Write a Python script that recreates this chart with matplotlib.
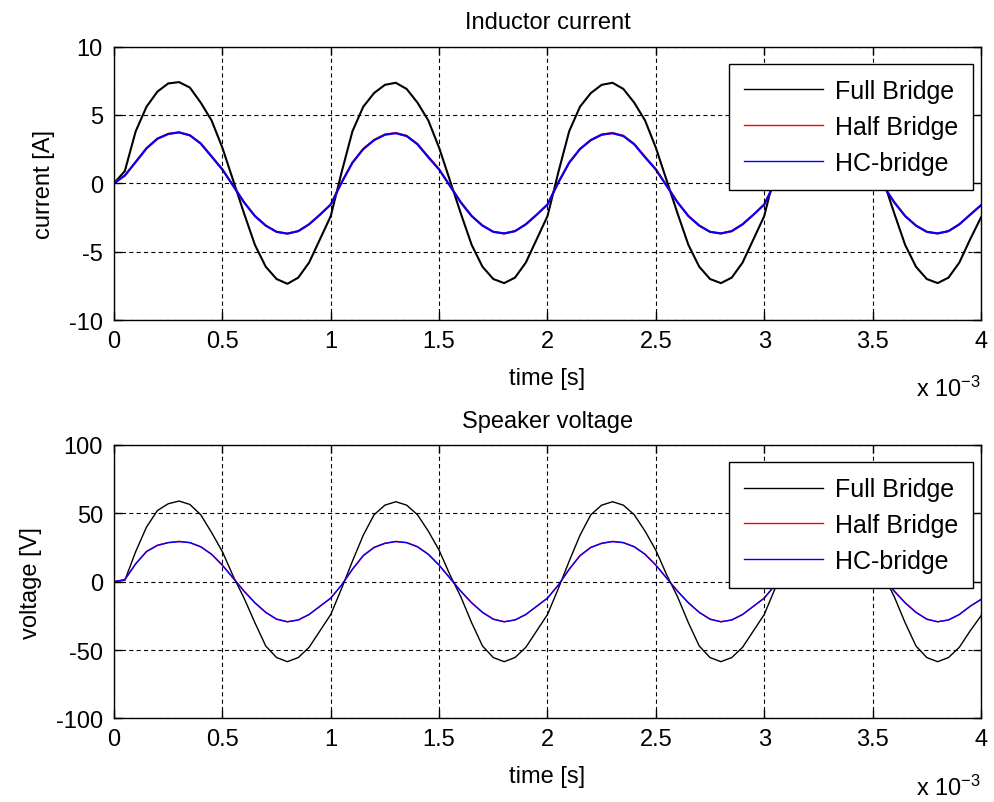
import numpy as np
import matplotlib
matplotlib.use("Agg")
import matplotlib.pyplot as plt
from matplotlib.ticker import FixedLocator, FuncFormatter

# ---------------- data ----------------
# sample times in ms (plotted with a "x 10^-3" note, as in the original)
time_ms = np.arange(81) * 0.05

series_names = ["Full Bridge", "Half Bridge", "HC-bridge"]

current_full = [
    0.0, 0.9, 3.8, 5.6, 6.7, 7.3, 7.4, 7.0, 5.9, 4.6, 2.6, 0.2, -2.2, -4.5, -6.1, -7.0, -7.35, -6.9, -5.8, -4.1,
    -2.4, 0.8, 3.8, 5.6, 6.6, 7.2, 7.35, 6.9, 5.9, 4.6, 2.6, 0.2, -2.2, -4.5, -6.1, -7.0, -7.3, -6.9, -5.8, -4.1,
    -2.4, 0.8, 3.8, 5.6, 6.6, 7.2, 7.35, 6.9, 5.9, 4.6, 2.6, 0.2, -2.2, -4.5, -6.1, -7.0, -7.3, -6.9, -5.8, -4.1,
    -2.4, 0.8, 3.8, 5.6, 6.6, 7.2, 7.35, 6.9, 5.9, 4.6, 2.6, 0.2, -2.2, -4.5, -6.1, -7.0, -7.3, -6.9, -5.8, -4.1,
    -2.5,
]
current_half = [
    0.0, 0.58, 1.57, 2.57, 3.27, 3.62, 3.73, 3.52, 2.93, 1.98, 1.03, -0.17, -1.38, -2.38, -3.08, -3.55, -3.68, -3.5, -3.0, -2.3,
    -1.55, 0.07, 1.52, 2.52, 3.17, 3.57, 3.68, 3.48, 2.88, 1.94, 1.03, -0.17, -1.38, -2.38, -3.08, -3.55, -3.68, -3.5, -3.0, -2.3,
    -1.55, 0.07, 1.52, 2.52, 3.17, 3.57, 3.68, 3.48, 2.88, 1.94, 1.03, -0.17, -1.38, -2.38, -3.08, -3.55, -3.68, -3.5, -3.0, -2.3,
    -1.55, 0.07, 1.52, 2.52, 3.17, 3.57, 3.68, 3.48, 2.88, 1.94, 1.03, -0.17, -1.38, -2.38, -3.08, -3.55, -3.68, -3.5, -3.0, -2.3,
    -1.6,
]
current_hc = [
    0.0, 0.56, 1.55, 2.55, 3.25, 3.6, 3.72, 3.5, 2.9, 1.95, 1.0, -0.2, -1.4, -2.4, -3.1, -3.55, -3.68, -3.5, -3.0, -2.3,
    -1.55, 0.05, 1.5, 2.5, 3.15, 3.55, 3.66, 3.45, 2.85, 1.9, 1.0, -0.2, -1.4, -2.4, -3.1, -3.55, -3.66, -3.5, -3.0, -2.3,
    -1.55, 0.05, 1.5, 2.5, 3.15, 3.55, 3.66, 3.45, 2.85, 1.9, 1.0, -0.2, -1.4, -2.4, -3.1, -3.55, -3.66, -3.5, -3.0, -2.3,
    -1.55, 0.05, 1.5, 2.5, 3.15, 3.55, 3.66, 3.45, 2.85, 1.9, 1.0, -0.2, -1.4, -2.4, -3.1, -3.55, -3.66, -3.5, -3.0, -2.3,
    -1.6,
]

voltage_full = [
    0, 1, 22, 40, 52, 57, 59, 56.5, 49, 36, 22, 4, -12, -30, -47, -55.5, -58.5, -55.5, -48, -36,
    -24, -5, 15, 34, 49, 56, 58.5, 56, 49, 37, 23, 5, -11, -30, -47, -55.5, -58.5, -55.5, -48, -36,
    -24, -5, 15, 34, 49, 56, 58.5, 56, 49, 37, 23, 5, -11, -30, -47, -55.5, -58.5, -55.5, -48, -36,
    -24, -5, 15, 34, 49, 56, 58.5, 56, 49, 37, 23, 5, -11, -30, -47, -55.5, -58.5, -55.5, -48, -36,
    -25,
]
voltage_half = [
    0, 1.6, 13.2, 22.2, 26.7, 28.7, 29.5, 28.7, 25.7, 20.2, 12.2, 2.7, -6.8, -15.3, -22.3, -27.3, -29.3, -28, -24, -18,
    -12, -2.4, 9.2, 19.2, 25.2, 28.2, 29.5, 28.7, 25.7, 20.2, 12.2, 2.7, -6.8, -15.3, -22.3, -27.3, -29.3, -28, -24, -18,
    -12, -2.4, 9.2, 19.2, 25.2, 28.2, 29.5, 28.7, 25.7, 20.2, 12.2, 2.7, -6.8, -15.3, -22.3, -27.3, -29.3, -28, -24, -18,
    -12, -2.4, 9.2, 19.2, 25.2, 28.2, 29.5, 28.7, 25.7, 20.2, 12.2, 2.7, -6.8, -15.3, -22.3, -27.3, -29.3, -28, -24, -18,
    -13,
]
voltage_hc = [
    0, 1.5, 13, 22, 26.5, 28.5, 29.3, 28.5, 25.5, 20, 12, 2.5, -7, -15.5, -22.5, -27.5, -29.3, -28, -24, -18,
    -12, -2.5, 9, 19, 25, 28, 29.3, 28.5, 25.5, 20, 12, 2.5, -7, -15.5, -22.5, -27.5, -29.3, -28, -24, -18,
    -12, -2.5, 9, 19, 25, 28, 29.3, 28.5, 25.5, 20, 12, 2.5, -7, -15.5, -22.5, -27.5, -29.3, -28, -24, -18,
    -12, -2.5, 9, 19, 25, 28, 29.3, 28.5, 25.5, 20, 12, 2.5, -7, -15.5, -22.5, -27.5, -29.3, -28, -24, -18,
    -13,
]

x_ticks = [0, 0.5, 1, 1.5, 2, 2.5, 3, 3.5, 4]
current_ticks = [-10, -5, 0, 5, 10]
voltage_ticks = [-100, -50, 0, 50, 100]

# ---------------- style ----------------
plt.rcParams["font.family"] = ["Liberation Sans", "DejaVu Sans"]
plt.rcParams["font.size"] = 17
plt.rcParams["axes.unicode_minus"] = False
plt.rcParams["mathtext.fontset"] = "custom"
plt.rcParams["mathtext.rm"] = "Liberation Sans"
plt.rcParams["mathtext.default"] = "regular"
plt.rcParams["lines.scale_dashes"] = False

colors = ["#000000", "#ff0000", "#0000ff"]

fig = plt.figure(figsize=(9.94, 8.03), dpi=100, facecolor="white")
ax_top = fig.add_axes([0.1147, 0.6002, 0.8722, 0.3406])
ax_bot = fig.add_axes([0.1147, 0.1041, 0.8722, 0.3405])


def fmt(v, pos):
    return ("%g" % v)


def style_axes(ax, yticks, ylim, title, ylabel):
    ax.set_xlim(0, 4)
    ax.set_ylim(*ylim)
    ax.xaxis.set_major_locator(FixedLocator(x_ticks))
    ax.yaxis.set_major_locator(FixedLocator(yticks))
    ax.xaxis.set_major_formatter(FuncFormatter(fmt))
    ax.yaxis.set_major_formatter(FuncFormatter(fmt))
    ax.tick_params(direction="in", length=6, width=1, top=True, right=True,
                   labelsize=17, colors="black")
    ax.tick_params(axis="y", pad=8)
    ax.tick_params(axis="x", pad=7)
    ax.grid(True, color="black", linestyle=(0, (3.0, 2.3)), linewidth=0.8)
    ax.set_axisbelow(False)
    for s in ax.spines.values():
        s.set_linewidth(1.0)
        s.set_color("black")
    ax.set_title(title, fontsize=17, pad=13)
    ax.set_xlabel("time [s]", fontsize=17, labelpad=11)
    ax.set_ylabel(ylabel, fontsize=17, labelpad=10)
    ax.text(1.0, -0.278, "x 10$^{-3}$", transform=ax.transAxes,
            ha="right", va="baseline", fontsize=17)


top_series = [current_full, current_half, current_hc]
for name, vals, c in zip(series_names, top_series, colors):
    ax_top.plot(time_ms, vals, color=c, linewidth=1.5, label=name)

bot_series = [voltage_full, voltage_half, voltage_hc]
for name, vals, c in zip(series_names, bot_series, colors):
    ax_bot.plot(time_ms, vals, color=c, linewidth=1.0, label=name)

style_axes(ax_top, current_ticks, (-10, 10), "Inductor current", "current [A]")
style_axes(ax_bot, voltage_ticks, (-100, 100), "Speaker voltage", "voltage [V]")

for ax in (ax_top, ax_bot):
    leg = ax.legend(loc="upper right", bbox_to_anchor=(0.9911, 0.936),
                    borderaxespad=0, fancybox=False, framealpha=1,
                    edgecolor="black", fontsize=18, handlelength=3.16,
                    handletextpad=0.48, labelspacing=0.47, borderpad=0.6)
    leg.get_frame().set_linewidth(1.0)
    for h in leg.get_lines():
        h.set_linewidth(1.0)
    leg.set_zorder(5)

fig.savefig("out.png", dpi=100, facecolor="white")
